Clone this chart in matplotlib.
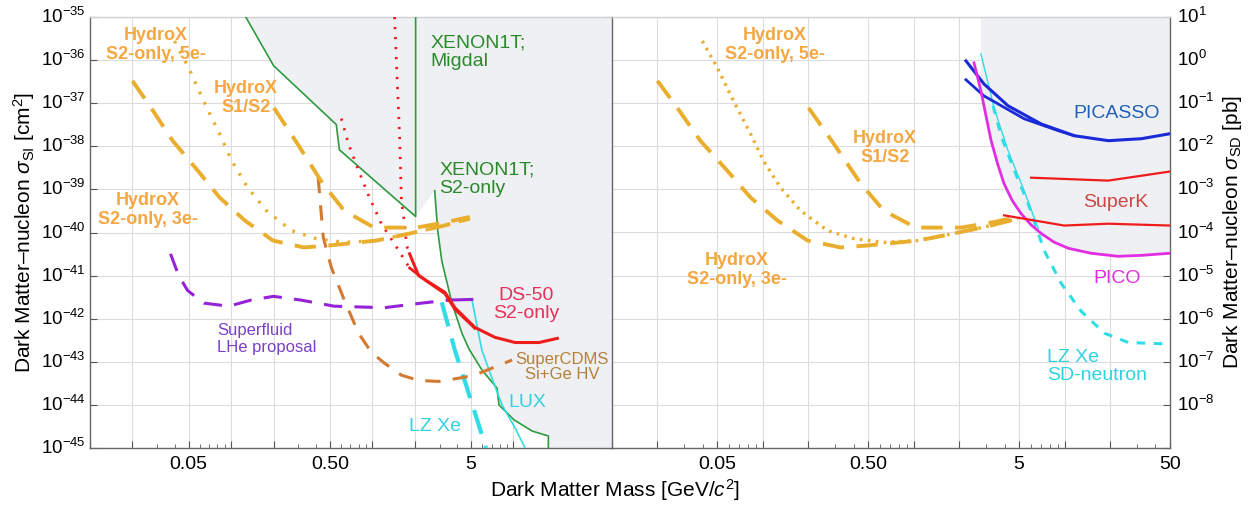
import numpy as np
import matplotlib
matplotlib.use('Agg')
import matplotlib.pyplot as plt
from matplotlib.ticker import LogLocator, FuncFormatter, NullLocator, NullFormatter, FixedLocator

plt.rcParams['font.family'] = ['Liberation Sans', 'DejaVu Sans']
plt.rcParams['mathtext.fontset'] = 'custom'
plt.rcParams['mathtext.rm'] = 'Liberation Sans'
plt.rcParams['mathtext.it'] = 'Liberation Sans:italic'
plt.rcParams['mathtext.bf'] = 'Liberation Sans:bold'

PB = 1e-36  # cm^2 per pb

# ---------------- HydroX projections (shared by both panels), y in pb ----------------
hx3_x = [0.020, 0.0271, 0.0385, 0.0582, 0.0828, 0.125, 0.198, 0.328, 0.496, 1.07, 1.85, 3.11, 4.92]
hx3_y = [0.33, 0.078, 0.0135, 2.7e-3, 6.5e-4, 1.9e-4, 6.5e-5, 4.5e-5, 5.0e-5, 6.5e-5, 9.5e-5, 1.4e-4, 2.1e-4]
hx5_x = [0.0397, 0.05, 0.0638, 0.0828, 0.101, 0.131, 0.178, 0.269, 0.401, 0.634, 1.07, 1.85, 3.11, 4.92]
hx5_y = [2.78, 0.66, 0.114, 0.0196, 4.6e-3, 1.1e-3, 3.2e-4, 1.1e-4, 7.2e-5, 5.9e-5, 6.5e-5, 9.5e-5, 1.4e-4, 2.1e-4]
hx12_x = [0.201, 0.295, 0.446, 0.634, 1.03, 2.06, 3.26, 4.92]
hx12_y = [0.078, 0.0115, 1.36e-3, 3.2e-4, 1.3e-4, 1.3e-4, 1.7e-4, 2.3e-4]

# ---------------- Spin-independent panel (cm^2) ----------------
mig_x = [0.127, 0.2, 0.556, 0.585, 2.03, 2.03]
mig_y = [1e-35, 7.4e-37, 3.2e-38, 8.3e-39, 2.35e-40, 1e-35]
x1t_x = [2.77, 2.91, 3.11, 3.66, 4.32, 4.84, 5.98, 7.66, 7.91, 10.1, 13.6, 17.7, 17.7]
x1t_y = [9.3e-40, 1.12e-40, 2.2e-41, 2.4e-42, 4.6e-43, 2.0e-43, 6.5e-44, 2.45e-44, 1.0e-44, 4.5e-45, 2.47e-45, 1.9e-45, 1e-45]
lux_x = [5.08, 5.98, 7.05, 8.3, 10.3, 12.1]
lux_y = [2.8e-42, 1.86e-43, 4.2e-44, 1e-44, 2.9e-45, 1e-45]
lzsi_x = [3.11, 3.85, 5.08, 6.4]
lzsi_y = [2.4e-42, 1.86e-43, 1.1e-44, 1e-45]
dsdot1_x = [0.604, 0.678, 0.80, 0.955, 1.16, 1.49, 1.84]
dsdot1_y = [4.4e-38, 1.15e-38, 2.75e-39, 6.5e-40, 1.6e-40, 4.5e-41, 1.5e-41]
dsdot2_x = [1.44, 1.49, 1.56, 1.61, 1.70, 1.75, 1.84]
dsdot2_y = [1e-35, 6.6e-37, 1.95e-38, 5.5e-40, 1.45e-40, 5e-41, 3.2e-41]
dsa_x = [1.84, 2.13, 3.27, 3.85, 5.33, 7.4, 10.3, 15.2, 20.5]
dsa_y = [3.2e-41, 1e-41, 4.1e-42, 1.8e-42, 6.3e-43, 3.7e-43, 2.8e-43, 2.8e-43, 3.5e-43]
dsb_x = [1.84, 2.43, 3.27, 3.85, 5.33]
dsb_y = [1.5e-41, 7.4e-42, 3.8e-42, 1.65e-42, 6.0e-43]
lhe_x = [0.0372, 0.0425, 0.0492, 0.064, 0.0964, 0.138, 0.2, 0.313, 0.538, 1.22, 2.24, 3.49]
lhe_y = [3.2e-41, 1e-41, 4.5e-42, 2.3e-42, 1.95e-42, 2.7e-42, 3.3e-42, 2.7e-42, 1.95e-42, 1.8e-42, 2.3e-42, 2.7e-42]
lhe_end_x = [3.49, 5.08]
lhe_end_y = [2.7e-42, 2.8e-42]
cdms_x = [0.414, 0.45, 0.513, 0.634, 0.80, 0.986, 1.22, 1.61, 2.13, 2.96, 4.53, 5.98, 7.9, 9.8]
cdms_y = [1.85e-39, 7.6e-41, 1.55e-41, 2.7e-42, 4.6e-43, 1.66e-43, 9.3e-44, 4.9e-44, 3.7e-44, 3.5e-44, 4.4e-44, 5.7e-44, 8.3e-44, 1.1e-43]

# ---------------- Spin-dependent panel (pb) ----------------
pica_x = [2.22, 2.92, 4.22, 7.0, 11.6, 19.5, 32.3, 50]
pica_y = [0.96, 0.28, 0.087, 0.033, 0.0176, 0.0135, 0.015, 0.0196]
picb_x = [2.22, 2.92, 5.4, 9.1, 11.6]
picb_y = [0.35, 0.148, 0.0435, 0.023, 0.0176]
pico_x = [2.51, 2.79, 3.0, 3.26, 3.6, 3.97, 4.5, 5.15, 6.0, 7.0, 8.5, 10.6, 15.0, 22.7, 32.4, 50]
pico_y = [0.86, 0.194, 0.055, 0.0135, 3.9e-3, 1.36e-3, 5.5e-4, 2.75e-4, 1.5e-4, 9.5e-5, 6.0e-5, 4.3e-5, 3.3e-5, 2.8e-5, 2.95e-5, 3.3e-5]
ska_x = [6.0, 19.5, 50]
ska_y = [1.87e-3, 1.6e-3, 2.6e-3]
skb_x = [3.97, 9.95, 19.5, 50]
skb_y = [2.5e-4, 1.45e-4, 1.6e-4, 1.45e-4]
lzsd_s_x = [2.79, 3.41, 4.22, 5.4, 6.69]
lzsd_s_y = [1.39, 0.078, 7.9e-3, 9.3e-4, 1.23e-4]
lzsd_d_x = [3.36, 3.8, 4.56, 5.74, 7.33, 9.5, 12.9, 18.4, 26.5, 47.4]
lzsd_d_y = [0.087, 0.0176, 3.2e-3, 4.7e-4, 3.8e-5, 6.6e-6, 1.48e-6, 4.6e-7, 2.8e-7, 2.6e-7]
sd_excl_xmin = 2.79

XMIN, XMAX = 0.01, 50
xlab_left = {0.05: '0.05', 0.5: '0.50', 5: '5'}
xlab_right = {0.05: '0.05', 0.5: '0.50', 5: '5', 50: '50'}
si_exps = list(range(-45, -34))   # y decades, SI panel
sd_exps = list(range(-9, 2))      # y decades, SD panel

# colors
C_HX = '#eaae2e'; C_HXT = '#f4a742'
C_GR = '#2e9a40'; C_GRT = '#2a8a2a'
C_RED = '#f01c1c'; C_DST = '#e8305a'
C_CY = '#30dce6'; C_CYT = '#2fd3e0'
C_PU = '#9622d8'; C_PUT = '#7a40c8'
C_BR = '#d27a32'; C_BRT = '#b5803a'
C_BL = '#1a2ad8'; C_BLT = '#2060b8'
C_MG = '#e22ee2'; C_SKT = '#d04545'
GRAY = '#eff0f3'

fig = plt.figure(figsize=(12.57, 5.07), dpi=100)
H = 507.0; W = 1257.0
TOP = 17.0; BOT = 448.0
ax1 = fig.add_axes([90 / W, (H - BOT) / H, 522 / W, (BOT - TOP) / H])
ax2 = fig.add_axes([612 / W, (H - BOT) / H, 558 / W, (BOT - TOP) / H])


def make_xfmt(labs):
    def xfmt(v, pos):
        for k, s in labs.items():
            if abs(v - k) / k < 1e-6:
                return s
        return ''
    return xfmt


def setup(ax, exps, side, xlabs, skip_lab=()):
    ax.set_xscale('log'); ax.set_yscale('log')
    ax.set_xlim(XMIN, XMAX); ax.set_ylim(10.0 ** exps[0], 10.0 ** exps[-1])
    ax.xaxis.set_major_locator(LogLocator(base=10, subs=(1.0, 2.0, 5.0), numticks=20))
    ax.xaxis.set_minor_locator(LogLocator(base=10, subs=(3.0, 4.0, 6.0, 7.0, 8.0, 9.0), numticks=20))
    ax.xaxis.set_major_formatter(FuncFormatter(make_xfmt(xlabs)))
    ax.xaxis.set_minor_formatter(NullFormatter())
    ax.yaxis.set_major_locator(FixedLocator([10.0 ** e for e in exps]))
    ax.yaxis.set_minor_locator(NullLocator())

    def yfmt(v, pos):
        e = int(round(np.log10(v)))
        if e in skip_lab:
            return ''
        return r'$10^{%d}$' % e
    ax.yaxis.set_major_formatter(FuncFormatter(yfmt))
    ax.grid(True, which='major', color='#dcdcdc', lw=0.8)
    ax.set_axisbelow(True)
    ax.tick_params(axis='x', which='both', direction='in', labelsize=14, top=False,
                   color='#555555', pad=6)
    ax.tick_params(axis='x', which='major', length=5)
    ax.tick_params(axis='x', which='minor', length=3)
    if side == 'left':
        ax.tick_params(axis='y', which='both', direction='in', left=True, right=True,
                       labelleft=True, labelright=False, labelsize=13.5, length=5,
                       color='#555555', pad=3)
    else:
        ax.yaxis.tick_right()
        ax.tick_params(axis='y', which='both', direction='in', left=False, right=True,
                       labelleft=False, labelright=True, labelsize=13.5, length=5,
                       color='#555555', pad=5)
    for t in ax.yaxis.get_major_ticks():
        t.label1.set_verticalalignment('center')
        t.label2.set_verticalalignment('center')
    for s in ax.spines.values():
        s.set_color('#666666'); s.set_linewidth(1.0)
    ax.spines['top'].set_color('#d0d0d0')


setup(ax1, si_exps, 'left', xlab_left)
setup(ax2, sd_exps, 'right', xlab_right, skip_lab=(-9,))
ax1.spines['right'].set_visible(False)

# ---------------- Left panel ----------------
gx = mig_x[:-1] + x1t_x + [XMAX, XMAX]
gy = mig_y[:-1] + x1t_y + [1e-45, 1e-35]
ax1.fill(gx, gy, color=GRAY, zorder=1, lw=0)

ax1.plot(mig_x, mig_y, color=C_GR, lw=1.2, zorder=3)
ax1.plot(x1t_x, x1t_y, color=C_GR, lw=1.2, zorder=3)
ax1.plot(lux_x, lux_y, color=C_CY, lw=1.2, zorder=3)
ax1.plot(lzsi_x, lzsi_y, color=C_CY, lw=3.0, ls=(0, (6, 3)), zorder=3)
ax1.plot(dsdot1_x, dsdot1_y, color=C_RED, lw=2.0, ls=(0, (0.8, 2.8)), zorder=3)
ax1.plot(dsdot2_x, dsdot2_y, color=C_RED, lw=2.0, ls=(0, (0.8, 2.8)), zorder=3)
ax1.plot(dsa_x, dsa_y, color=C_RED, lw=2.2, zorder=4)
ax1.plot(dsb_x, dsb_y, color=C_RED, lw=2.0, zorder=4)
ax1.plot(lhe_x, lhe_y, color=C_PU, lw=2.2, ls=(0, (6, 4)), zorder=3)
ax1.plot(lhe_end_x, lhe_end_y, color=C_PU, lw=2.2, zorder=3)
ax1.plot(cdms_x, cdms_y, color=C_BR, lw=2.2, ls=(0, (5, 4)), zorder=3)
ax1.plot(hx3_x, np.array(hx3_y) * PB, color=C_HX, lw=2.8, ls=(0, (5.5, 3.2)), zorder=3)
ax1.plot(hx12_x, np.array(hx12_y) * PB, color=C_HX, lw=2.8, ls=(0, (5.5, 3.2)), zorder=3)
ax1.plot(hx5_x, np.array(hx5_y) * PB, color=C_HX, lw=2.4, ls=(0, (0.8, 2.6)), zorder=3)

t1 = ax1.transAxes
ax1.text(0.126, 0.936, 'HydroX\nS2-only, 5e-', transform=t1, ha='center', va='center',
         color=C_HXT, fontsize=13, fontweight='bold', linespacing=1.15, zorder=6)
ax1.text(0.299, 0.811, 'HydroX\nS1/S2', transform=t1, ha='center', va='center',
         color=C_HXT, fontsize=13, fontweight='bold', linespacing=1.15, zorder=6)
ax1.text(0.111, 0.552, 'HydroX\nS2-only, 3e-', transform=t1, ha='center', va='center',
         color=C_HXT, fontsize=13, fontweight='bold', linespacing=1.15, zorder=6)
ax1.text(0.653, 0.919, 'XENON1T;\nMigdal', transform=t1, ha='left', va='center',
         color=C_GRT, fontsize=14, linespacing=1.1, zorder=6)
ax1.text(0.669, 0.624, 'XENON1T;\nS2-only', transform=t1, ha='left', va='center',
         color=C_GRT, fontsize=14, linespacing=1.1, zorder=6)
ax1.text(0.835, 0.333, 'DS-50\nS2-only', transform=t1, ha='center', va='center',
         color=C_DST, fontsize=14, linespacing=1.1, zorder=6)
ax1.text(0.905, 0.1875, 'SuperCDMS\nSi+Ge HV', transform=t1, ha='center', va='center',
         color=C_BRT, fontsize=12, linespacing=1.05, zorder=6)
ax1.text(0.837, 0.106, 'LUX', transform=t1, ha='center', va='center',
         color=C_CYT, fontsize=14, zorder=6)
ax1.text(0.661, 0.049, 'LZ Xe', transform=t1, ha='center', va='center',
         color=C_CYT, fontsize=14, zorder=6)
ax1.text(0.243, 0.253, 'Superfluid\nLHe proposal', transform=t1, ha='left', va='center',
         color=C_PUT, fontsize=12, linespacing=1.1, zorder=6)

# ---------------- Right panel ----------------
sel = [i for i, v in enumerate(pico_x) if v >= sd_excl_xmin]
rx = [sd_excl_xmin] + [pico_x[i] for i in sel] + [XMAX]
ry = [10.0] + [pico_y[i] for i in sel] + [10.0]
ax2.fill(rx, ry, color=GRAY, zorder=1, lw=0)

ax2.plot(hx3_x, hx3_y, color=C_HX, lw=2.8, ls=(0, (5.5, 3.2)), zorder=3)
ax2.plot(hx12_x, hx12_y, color=C_HX, lw=2.8, ls=(0, (5.5, 3.2)), zorder=3)
ax2.plot(hx5_x, hx5_y, color=C_HX, lw=2.4, ls=(0, (0.8, 1.6)), zorder=3)
ax2.plot(pica_x, pica_y, color=C_BL, lw=2.2, zorder=4)
ax2.plot(picb_x, picb_y, color=C_BL, lw=2.0, zorder=4)
ax2.plot(pico_x, pico_y, color=C_MG, lw=2.0, zorder=4)
ax2.plot(ska_x, ska_y, color=C_RED, lw=1.6, zorder=4)
ax2.plot(skb_x, skb_y, color=C_RED, lw=1.6, zorder=4)
ax2.plot(lzsd_s_x, lzsd_s_y, color=C_CY, lw=1.0, zorder=3)
ax2.plot(lzsd_d_x, lzsd_d_y, color=C_CY, lw=2.2, ls=(0, (2.8, 2.8)), zorder=3)

t2 = ax2.transAxes
ax2.text(0.292, 0.936, 'HydroX\nS2-only, 5e-', transform=t2, ha='center', va='center',
         color=C_HXT, fontsize=13, fontweight='bold', linespacing=1.15, zorder=6)
ax2.text(0.489, 0.696, 'HydroX\nS1/S2', transform=t2, ha='center', va='center',
         color=C_HXT, fontsize=13, fontweight='bold', linespacing=1.15, zorder=6)
ax2.text(0.224, 0.412, 'HydroX\nS2-only, 3e-', transform=t2, ha='center', va='center',
         color=C_HXT, fontsize=13, fontweight='bold', linespacing=1.15, zorder=6)
ax2.text(0.905, 0.775, 'PICASSO', transform=t2, ha='center', va='center',
         color=C_BLT, fontsize=14, zorder=6)
ax2.text(0.903, 0.569, 'SuperK', transform=t2, ha='center', va='center',
         color=C_SKT, fontsize=14, zorder=6)
ax2.text(0.905, 0.394, 'PICO', transform=t2, ha='center', va='center',
         color=C_MG, fontsize=14, zorder=6)
ax2.text(0.780, 0.189, 'LZ Xe\nSD-neutron', transform=t2, ha='left', va='center',
         color=C_CYT, fontsize=14, linespacing=1.1, zorder=6)

# ---------------- Axis labels ----------------
fig.text(615 / W, 1 - 490 / H, r'Dark Matter Mass [GeV/$c^2$]', ha='center', va='center',
         fontsize=15)
fig.text(24 / W, 1 - 232 / H, r'Dark Matter–nucleon $\sigma_{\rm SI}$ [cm$^2$]',
         ha='center', va='center', rotation=90, fontsize=15)
fig.text(1232 / W, 1 - 232 / H, r'Dark Matter–nucleon $\sigma_{\rm SD}$ [pb]',
         ha='center', va='center', rotation=90, fontsize=15)

fig.savefig('out.png', dpi=100)
